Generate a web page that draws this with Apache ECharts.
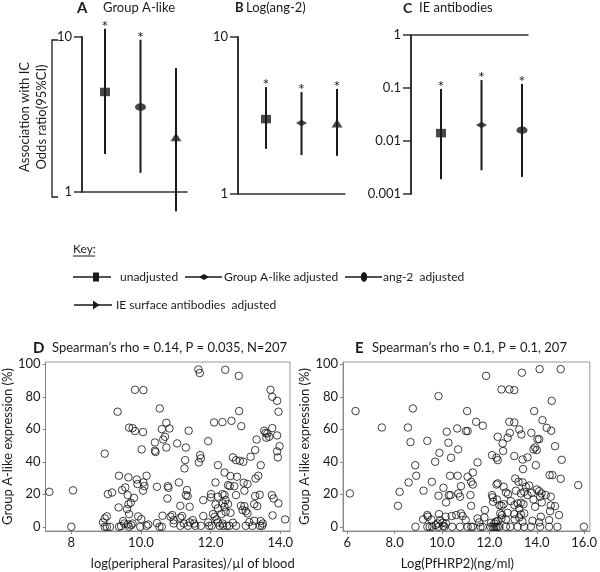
<!DOCTYPE html>
<html><head><meta charset="utf-8">
<script src="https://cdn.jsdelivr.net/npm/echarts@6/dist/echarts.min.js"></script>
<style>html,body{margin:0;padding:0;background:#fff}#c{width:600px;height:572px}</style>
</head><body><div id="c"></div>
<script>
const FONT = 'Lato';
const INK = '#1a1a1a';

// ---- key / group names ----
const groupNames = ['unadjusted', 'Group A-like adjusted', 'ang-2  adjusted', 'IE surface antibodies  adjusted'];

// ---- Panel A: Group A-like ----
const aGroups = ['unadjusted', 'ang-2  adjusted', 'IE surface antibodies  adjusted'];
const aOR   = [4.42, 3.53, 2.26];
const aLow  = [1.76, 1.33, 0.75];
const aHigh = [11.3, 9.6, 6.3];
const aSig  = [1, 1, 0];

// ---- Panel B: Log(ang-2) ----
const bGroups = ['unadjusted', 'Group A-like adjusted', 'IE surface antibodies  adjusted'];
const bOR   = [3.0, 2.83, 2.82];
const bLow  = [1.94, 1.77, 1.75];
const bHigh = [4.8, 4.46, 4.67];
const bSig  = [1, 1, 1];

// ---- Panel C: IE antibodies ----
const cGroups = ['unadjusted', 'Group A-like adjusted', 'ang-2  adjusted'];
const cOR   = [0.0141, 0.020, 0.016];
const cLow  = [0.0019, 0.0028, 0.0021];
const cHigh = [0.096, 0.141, 0.119];
const cSig  = [1, 1, 1];

// ---- Panel D: log(peripheral parasites) vs Group A-like expression ----
const dXTicks = [8, 10, 12, 14];
const dXTickLabels = ['8', '10.0', '12.0', '14.0'];
const dPoints = [
[7.37,21.5],[8.05,22.4],[8.0,0],[8.96,45],[9.33,70.8],[9.83,84.3],[10.07,84.1],[9.66,61],[9.76,60.7],[9.83,58.9],
[10.06,58.3],[10.02,47.6],[10.4,51.9],[10.4,46.8],[10.42,46],[10.54,72.8],[10.6,60.1],[10.73,64],[10.82,60.5],[10.64,53.7],
[10.69,55.4],[10.73,48.8],[9.37,31.4],[9.64,30.4],[10.16,31.4],[9.88,29.1],[9.9,26.3],[10.07,27.3],[10.1,25],[10.06,22.2],
[9.46,22.6],[9.55,24.2],[9.05,20.1],[9.17,21.1],[9.62,19.5],[9.8,17.8],[9.71,14.8],[9.64,13.9],[9.36,11.9],[9.6,10.9],
[9.66,7.8],[9.92,6.4],[10.01,4.7],[9.02,6.4],[8.96,5.1],[8.91,2.7],[8.96,0],[9.02,0],[9.11,0],[9.37,0],
[9.43,0.4],[9.49,3.5],[9.52,2],[9.62,1.5],[9.66,0],[9.72,1],[9.76,2],[9.98,0],[10.16,0.6],[10.21,1.4],
[10.46,2.3],[10.53,0],[10.6,0],[10.46,24.6],[10.77,25],[10.79,24],[10.76,17.4],[10.62,6.8],
[11.65,96.8],[11.69,94.6],[12.42,96.6],[12.81,92.9],[13.72,84.3],[13.77,80],[13.91,77.5],[13.95,70.8],[12.82,71.2],[12.1,64.2],
[12.34,64.4],[12.6,65.2],[12.88,61.9],[11.37,59.1],[13.77,60.7],[13.54,59.1],[13.58,57.8],[13.63,57.4],[13.6,54.8],[13.68,55.4],
[13.91,56.2],[13.32,53.7],[13.98,49.6],[13.91,46.4],[13.93,42.7],[13.28,47.2],[13.15,43.1],[11.93,52.7],[11.04,51.3],[11.29,48.8],
[11.7,44.1],[11.72,42.1],[11.66,39.6],[11.27,41],[11.25,35.9],[12.64,42.7],[12.73,41],[12.84,40.6],[12.94,40],[13.44,37.9],
[12.21,37.9],[12.4,33.4],[12.57,31.2],[12.76,30.8],[13.29,29.7],[13.37,31.4],[11.09,27.3],[12.14,27.3],[12.5,25.6],[12.55,25],
[12.68,25],[12.95,27.1],[13.06,26.3],[11.32,22.6],[11.29,19.5],[11.34,18.9],[12.01,20.1],[12.01,18.1],[12.21,18.5],[12.34,20.1],
[12.4,19.5],[12.43,16.4],[12.35,14.4],[12.73,19.5],[12.97,22.2],[13.28,18.9],[13.41,19.7],[13.76,19.5],[13.81,17.4],[13.95,14.4],
[11.79,16.4],[11.13,12.9],[11.4,12.3],[12.14,13.7],[12.21,11.3],[12.4,12.3],[12.5,13.9],[12.43,9.2],[12.57,8.6],[12.31,7.8],
[12.87,12.9],[12.97,12.7],[13.01,9.6],[13.06,8.2],[12.92,10.3],[13.25,13.9],[13.34,12.7],[13.78,7],[14.14,4.5],[10.9,7.2],
[10.85,6.2],[10.94,4.1],[11.18,6.6],[11.13,5.5],[11.49,4.1],[11.53,2],[11.79,6.6],[12.07,7.8],[12.12,6.2],[12.17,4.5],
[12.21,2.7],[11.13,0.6],[11.35,0.6],[11.56,0.6],[11.72,0.6],[11.96,0.6],[12.03,0.6],[12.26,0.6],[12.36,0.6],[12.47,0.6],
[12.54,0.6],[12.73,0.6],[13.01,0.6],[13.2,0.6],[13.42,0.6],[13.48,0.6],[10.94,2],[11.23,2],[11.4,2.7],[11.93,2.7],
[12.34,2],[12.64,2.5],[13.11,2.9],[13.25,3.7],[13.44,3.5],[13.5,2]
];

// ---- Panel E: Log(PfHRP2) vs Group A-like expression ----
const eXTicks = [6, 8, 10, 12, 14, 16];
const eXTickLabels = ['6', '8.0', '10.0', '12.0', '14.0', '16.0'];
const ePoints = [
[6.35,71.2],[6.11,20.5],[7.46,61.1],[8.56,61.1],[8.77,72.8],[9.85,80.4],[11.06,71.2],[8.67,52.1],[9.38,52.9],[10.2,58.5],
[10.64,60.5],[11.01,58.9],[11.08,58.9],[10.27,51.7],[10.68,47.6],[9.89,45.5],[10.38,42.5],[9.71,40],[8.87,37.9],[8.91,31.4],
[8.59,27.3],[8.21,21.5],[8.14,12.9],[9.22,22.2],[9.57,27.7],[10.34,31.4],[10.66,31.4],[11.08,30.8],[10.8,25],[10.06,24],
[9.85,19.1],[10.29,19.5],[10.36,19.5],[10.69,20.5],[10.76,18.5],[10.17,15],[9.38,7.2],[9.4,6.2],[9.87,7.8],[9.2,4.5],
[9.55,4.5],[10.15,6.2],[10.41,6.6],[10.6,7.2],[10.8,8.2],[10.87,6.6],[9.92,4.1],[10.03,2.5],[10.17,2],[9.82,2],
[11.0,4.1],[8.88,0],[9.38,0],[9.48,0],[9.59,0],[9.85,0],[10.1,0],[10.43,0],[10.76,0],[11.08,0],
[9.73,1],[10.05,0.6],
[11.86,92.9],[13.37,94.8],[14.12,97],[15.01,97],[12.51,84.5],[12.84,84.5],[13.05,84.1],[14.63,77.5],[13.89,71.2],[11.44,64.6],
[11.72,62.2],[12.84,64.6],[13.05,64.2],[14.24,65.6],[14.42,60.9],[14.61,59.1],[13.26,59.9],[13.35,56.8],[12.35,55.4],[12.56,51.3],
[12.77,54.8],[12.86,57.8],[13.77,57.8],[14.03,53.9],[14.1,53.9],[13.86,47.6],[13.93,48.8],[14.0,47.2],[12.58,46.6],[14.77,49.6],
[15.05,41.2],[13.05,43.5],[13.61,42.7],[13.4,41.4],[12.11,44.1],[12.3,42.5],[12.35,41],[11.5,39.6],[13.96,37.9],[13.42,35.5],
[11.3,33.4],[11.23,27.7],[11.3,26],[14.54,31.8],[14.66,31.8],[15.01,29.5],[15.75,25.6],[12.3,26],[12.35,26.7],[12.6,24.6],
[12.7,21.1],[12.79,20.1],[13.09,29.7],[13.23,27.7],[13.4,27.3],[13.54,24.6],[13.68,25.4],[13.12,22.2],[13.33,20.5],[13.47,21.5],
[13.61,19.5],[13.79,20.9],[14.0,23],[14.1,21.9],[14.2,20.5],[14.38,19.5],[14.59,18.5],[11.2,19.5],[11.23,12.9],[12.11,19.5],
[12.14,18.1],[12.16,15.4],[12.32,16.8],[12.42,13.3],[12.51,12.9],[12.6,13.9],[12.9,15.8],[13.05,13.3],[13.2,14.4],[13.33,14.8],
[13.44,13.9],[13.26,11.3],[13.86,16.8],[14.14,18.5],[13.93,12.3],[14.21,15],[14.59,13.1],[14.77,12.7],[11.81,10.3],[11.5,5.1],
[11.79,5.7],[11.57,2.7],[12.46,8.2],[12.53,7.2],[12.77,8.6],[13.05,7.8],[13.33,7.6],[13.47,8.2],[14.56,9.6],[14.94,7.2],
[12.51,5.1],[12.7,4.5],[13.07,4.5],[13.4,3.1],[13.26,5.7],[13.82,3.7],[14.17,6.2],[14.1,2.7],[14.52,4.1],[11.23,0],
[11.3,0],[11.62,0],[11.72,0],[12.04,0],[12.14,0],[12.21,0],[12.28,0],[12.35,0],[12.42,0],[12.7,0],
[12.88,0],[13.19,0],[13.47,0],[13.75,0],[14.14,0],[14.52,0],[14.87,0],[15.99,0],[12.21,2],[12.28,3.1],
[12.07,2.5],[12.35,3.7]
];
const yTicks = [0, 20, 40, 60, 80, 100];

// ---- styles ----
const markerStyle = {
  'unadjusted': {symbol: 'rect', size: [10, 8.5]},
  'Group A-like adjusted': {symbol: 'diamond', size: [11, 6.5]},
  'ang-2  adjusted': {symbol: 'circle', size: [11, 7.5]},
  'IE surface antibodies  adjusted': {symbol: 'triangle', size: [11, 8.5]}
};

function errRender(params, api) {
  const x = api.value(0), lo = api.value(1), hi = api.value(2), sig = api.value(3);
  const pLo = api.coord([x, lo]), pHi = api.coord([x, hi]);
  const children = [{
    type: 'line',
    shape: {x1: pLo[0], y1: pLo[1], x2: pHi[0], y2: pHi[1]},
    style: {stroke: INK, lineWidth: 2}
  }];
  if (sig) {
    children.push({
      type: 'text',
      style: {text: '*', x: pHi[0], y: pHi[1] - 2, align: 'center', verticalAlign: 'middle',
              textAlign: 'center', textVerticalAlign: 'middle', fontSize: 16, fontFamily: FONT, fill: INK}
    });
  }
  return {type: 'group', children};
}

function errData(low, high, sig) {
  return low.map((l, i) => [i + 1, l, high[i], sig[i]]);
}
function markerData(groups, or) {
  return or.map((v, i) => ({
    value: [i + 1, v], name: groups[i],
    symbol: markerStyle[groups[i]].symbol, symbolSize: markerStyle[groups[i]].size
  }));
}

const logYAxis = (gi, min, max) => ({
  gridIndex: gi, type: 'log', logBase: 10, min, max,
  axisLine: {show: true, lineStyle: {color: '#333', width: 2}},
  axisTick: {show: true, length: 8, lineStyle: {color: '#333', width: 1.5}},
  axisLabel: {margin: 10, fontSize: 13, fontFamily: FONT, color: INK,
              formatter: v => String(+Number(v).toPrecision(3))},
  splitLine: {show: false}, minorTick: {show: false}
});
const catXAxis = (gi, min, max, pos) => ({
  gridIndex: gi, type: 'value', min, max, position: pos,
  axisLine: {show: true, onZero: false, lineStyle: {color: '#333', width: 1.5}},
  axisTick: {show: false}, axisLabel: {show: false}, splitLine: {show: false}
});

const scatXAxis = (gi, min, max, ticks, labels, name, pad) => ({
  gridIndex: gi, type: 'value', min, max,
  name, nameLocation: 'middle', nameGap: 26,
  nameTextStyle: {fontSize: 13, fontFamily: FONT, color: INK, padding: pad},
  axisLine: {show: true, onZero: false, lineStyle: {color: '#888', width: 1}},
  axisTick: {show: true, customValues: ticks, length: 3, lineStyle: {color: '#888'}},
  axisLabel: {customValues: ticks, margin: 5, fontSize: 13, fontFamily: FONT, color: INK,
              formatter: v => labels[ticks.indexOf(v)] !== undefined ? labels[ticks.indexOf(v)] : String(v)},
  splitLine: {show: false}
});
const scatYAxis = (gi) => ({
  gridIndex: gi, type: 'value', min: -2.6, max: 101.4,
  name: 'Group A-like expression (%)', nameLocation: 'middle', nameRotate: 90, nameGap: 25,
  nameTextStyle: {fontSize: 13, fontFamily: FONT, color: INK},
  axisLine: {show: true, lineStyle: {color: '#888', width: 1}},
  axisTick: {show: true, customValues: yTicks, length: 3, lineStyle: {color: '#888'}},
  axisLabel: {customValues: yTicks, margin: 5, fontSize: 13, fontFamily: FONT, color: INK},
  splitLine: {show: false}
});

const scatterStyle = {color: 'rgba(0,0,0,0)', borderColor: '#111', borderWidth: 1};

function txt(text, x, y, opts) {
  return {type: 'text', x, y, style: Object.assign({
    text, fontSize: 13, fontFamily: FONT, fill: INK,
    align: 'left', verticalAlign: 'middle', textAlign: 'left', textVerticalAlign: 'middle'
  }, opts || {})};
}
function hline(x1, x2, y, w) {
  return {type: 'line', shape: {x1, y1: y, x2, y2: y}, style: {stroke: INK, lineWidth: w || 1.3}};
}

const graphics = [
  txt('A', 77, 8, {fontWeight: 'bold', fontSize: 15}),
  txt('Group A-like', 103, 8),
  txt('B', 235, 8, {fontWeight: 'bold', fontSize: 13}),
  txt('Log(ang-2)', 246, 8),
  txt('C', 403, 8, {fontWeight: 'bold', fontSize: 14}),
  txt('IE antibodies', 419, 8),
  {type: 'text', x: 33.5, y: 117, rotation: Math.PI / 2,
   style: {text: 'Association with IC\nOdds ratio(95%CI)', fontSize: 13, fontFamily: FONT, fill: INK, lineHeight: 17,
           align: 'center', verticalAlign: 'middle', textAlign: 'center', textVerticalAlign: 'middle'}},
  {type: 'polyline', shape: {points: [[58, 40], [52, 40], [52, 197], [58, 197]]},
   style: {stroke: INK, lineWidth: 1.3, fill: null}},
  // key
  txt('Key:', 73, 249, {fontSize: 12}),
  hline(73, 95, 256, 1),
  hline(73, 111, 277), {type: 'rect', shape: {x: 93, y: 272.5, width: 6, height: 9}, style: {fill: INK}},
  txt(groupNames[0], 120, 277, {fontSize: 12}),
  hline(185, 222, 277), {type: 'polygon', shape: {points: [[199, 277], [204, 274], [209, 277], [204, 280]]}, style: {fill: INK}},
  txt(groupNames[1], 224, 277, {fontSize: 12}),
  hline(345, 382, 277), {type: 'ellipse', shape: {cx: 364, cy: 277, rx: 3.2, ry: 5}, style: {fill: INK}},
  txt(groupNames[2], 383, 277, {fontSize: 12}),
  hline(74, 112, 305), {type: 'polygon', shape: {points: [[93, 300.5], [99.5, 305], [93, 309.5]]}, style: {fill: INK}},
  txt(groupNames[3], 116, 305, {fontSize: 12}),
  // bottom titles
  txt('D', 33, 348, {fontWeight: 'bold', fontSize: 15}),
  txt('Spearman\u2019s rho = 0.14, P = 0.035, N=207', 52, 348),
  txt('E', 355, 348, {fontWeight: 'bold', fontSize: 15}),
  txt('Spearman\u2019s rho = 0.1, P = 0.1, 207', 372, 348)
];

const option = {
  animation: false,
  backgroundColor: '#fff',
  textStyle: {fontFamily: FONT},
  grid: [
    {left: 82, top: 37, width: 105, height: 155},
    {left: 238, top: 37, width: 107, height: 157},
    {left: 411, top: 35, width: 117, height: 159},
    {left: 41, top: 362, width: 249, height: 169, show: true, borderColor: '#999', borderWidth: 1},
    {left: 343, top: 362, width: 248, height: 169, show: true, borderColor: '#999', borderWidth: 1}
  ],
  xAxis: [
    catXAxis(0, 0.352, 3.31, 'bottom'),
    catXAxis(1, 0.211, 3.225, 'bottom'),
    catXAxis(2, 0.259, 3.148, 'top'),
    scatXAxis(3, 7.26, 14.28, dXTicks, dXTickLabels, 'log(peripheral Parasites)/\u00b5l of blood', [0, 0, 0, 50]),
    scatXAxis(4, 5.82, 16.24, eXTicks, eXTickLabels, 'Log(PfHRP2)(ng/ml)', [0, 18, 0, 0])
  ],
  yAxis: [
    logYAxis(0, 1, 10),
    logYAxis(1, 1, 10),
    logYAxis(2, 0.001, 1),
    scatYAxis(3),
    scatYAxis(4)
  ],
  series: [
    {type: 'custom', name: 'A CI', xAxisIndex: 0, yAxisIndex: 0, renderItem: errRender, clip: false,
     encode: {x: 0, y: [1, 2]}, data: errData(aLow, aHigh, aSig), z: 2},
    {type: 'custom', name: 'B CI', xAxisIndex: 1, yAxisIndex: 1, renderItem: errRender, clip: false,
     encode: {x: 0, y: [1, 2]}, data: errData(bLow, bHigh, bSig), z: 2},
    {type: 'custom', name: 'C CI', xAxisIndex: 2, yAxisIndex: 2, renderItem: errRender, clip: false,
     encode: {x: 0, y: [1, 2]}, data: errData(cLow, cHigh, cSig), z: 2},
    {type: 'scatter', name: 'A OR', xAxisIndex: 0, yAxisIndex: 0, data: markerData(aGroups, aOR),
     itemStyle: {color: INK}, z: 3, silent: true},
    {type: 'scatter', name: 'B OR', xAxisIndex: 1, yAxisIndex: 1, data: markerData(bGroups, bOR),
     itemStyle: {color: INK}, z: 3, silent: true},
    {type: 'scatter', name: 'C OR', xAxisIndex: 2, yAxisIndex: 2, data: markerData(cGroups, cOR),
     itemStyle: {color: INK}, z: 3, silent: true},
    {type: 'scatter', name: 'D', xAxisIndex: 3, yAxisIndex: 3, data: dPoints, symbol: 'circle', symbolSize: 7.5,
     itemStyle: scatterStyle, silent: true},
    {type: 'scatter', name: 'E', xAxisIndex: 4, yAxisIndex: 4, data: ePoints, symbol: 'circle', symbolSize: 7.5,
     itemStyle: scatterStyle, silent: true}
  ],
  graphic: graphics
};

const chart = echarts.init(document.getElementById('c'), null, {renderer: 'canvas'});
chart.setOption(option);
</script>
</body></html>
